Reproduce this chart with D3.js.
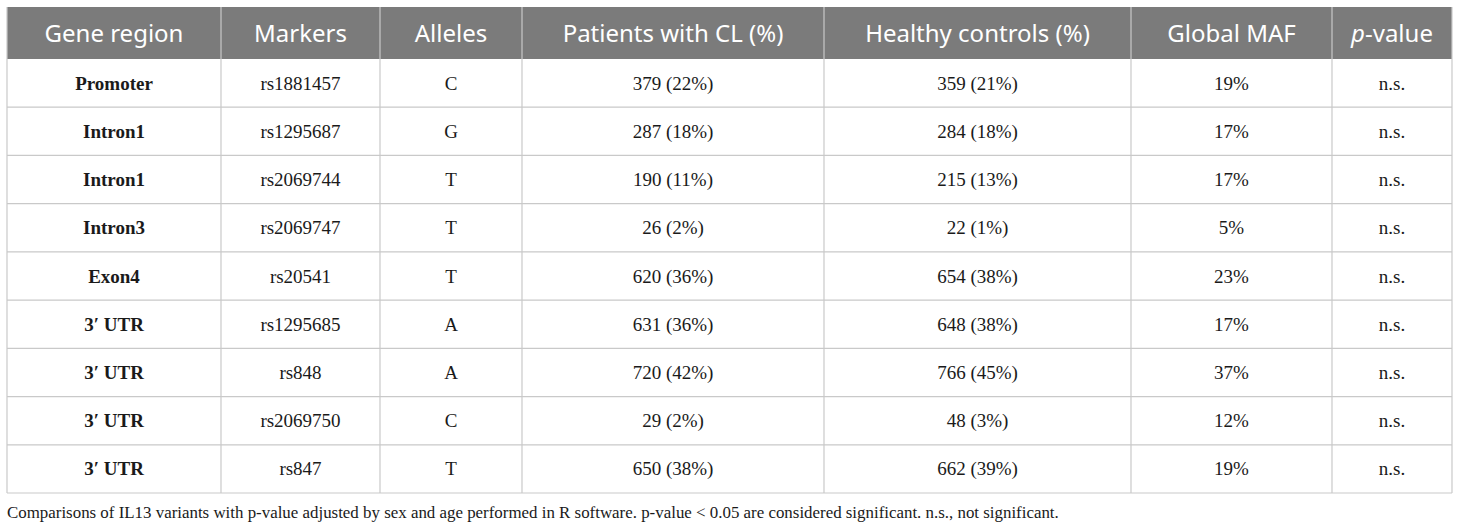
<!DOCTYPE html>
<html><head><meta charset="utf-8">
<script src="https://cdn.jsdelivr.net/npm/d3@7"></script>
<style>html,body{margin:0;padding:0;background:#fff;}</style>
</head><body>
<svg id="c" width="1460" height="531"></svg>
<script>
const headers = ["Gene region","Markers","Alleles","Patients with CL (%)","Healthy controls (%)","Global MAF","p-value"];
const geneRegions = ["Promoter","Intron1","Intron1","Intron3","Exon4","3\u2032 UTR","3\u2032 UTR","3\u2032 UTR","3\u2032 UTR"];
const markers = ["rs1881457","rs1295687","rs2069744","rs2069747","rs20541","rs1295685","rs848","rs2069750","rs847"];
const alleles = ["C","G","T","T","T","A","A","C","T"];
const patientsCL = ["379 (22%)","287 (18%)","190 (11%)","26 (2%)","620 (36%)","631 (36%)","720 (42%)","29 (2%)","650 (38%)"];
const healthyControls = ["359 (21%)","284 (18%)","215 (13%)","22 (1%)","654 (38%)","648 (38%)","766 (45%)","48 (3%)","662 (39%)"];
const globalMAF = ["19%","17%","17%","5%","23%","17%","37%","12%","19%"];
const pValues = ["n.s.","n.s.","n.s.","n.s.","n.s.","n.s.","n.s.","n.s.","n.s."];
const footnote = "Comparisons of IL13 variants with p-value adjusted by sex and age performed in R software. p-value < 0.05 are considered significant. n.s., not significant.";

const columns = [geneRegions, markers, alleles, patientsCL, healthyControls, globalMAF, pValues];
const colEdges = [7,221,380,522,824,1131,1332,1452];

const svg = d3.select("#c");
const headTop = 7, headBot = 59, tableBot = 493;
const y = d3.scaleBand().domain(d3.range(geneRegions.length)).range([headBot, tableBot]);
const gridColor = "#c9c9c9";

svg.append("rect").attr("x", colEdges[0]).attr("y", headTop)
  .attr("width", colEdges[7]-colEdges[0]).attr("height", headBot-headTop).attr("fill", "#7b7b7b");

const ht = svg.selectAll("text.h").data(headers).join("text")
  .attr("class","h")
  .attr("x", (d,i)=> (colEdges[i]+colEdges[i+1])/2)
  .attr("y", (headTop+headBot)/2 + 8.5)
  .attr("text-anchor","middle")
  .attr("font-family","'Noto Sans', 'Open Sans', sans-serif")
  .attr("font-size", 24)
  .attr("fill","#fff");
ht.each(function(d){
  const t = d3.select(this);
  if (d === "p-value") {
    t.append("tspan").attr("font-style","italic").text("p");
    t.append("tspan").text("-value");
  } else t.text(d);
});

columns.forEach((col, ci) => {
  svg.selectAll(null).data(col).join("text")
    .attr("x", (colEdges[ci]+colEdges[ci+1])/2)
    .attr("y", (d,ri)=> y(ri) + y.bandwidth()/2 + 6.5)
    .attr("text-anchor","middle")
    .attr("font-family","'Liberation Serif','Times New Roman',serif")
    .attr("font-size", 19)
    .attr("font-weight", ci===0 ? "bold" : "normal")
    .attr("fill","#1a1a1a")
    .text(d=>d);
});

const hLines = d3.range(1, geneRegions.length+1).map(i => i < geneRegions.length ? y(i) : tableBot);
svg.selectAll("line.hl").data(hLines).join("line")
  .attr("x1", colEdges[0]).attr("x2", colEdges[7])
  .attr("y1", d=>d).attr("y2", d=>d)
  .attr("stroke", gridColor).attr("stroke-width", 1.2);
svg.selectAll("line.vl").data(colEdges).join("line")
  .attr("x1", d=>d).attr("x2", d=>d)
  .attr("y1", headTop).attr("y2", tableBot)
  .attr("stroke", gridColor).attr("stroke-width", 1.2);

svg.append("text").attr("x", 7).attr("y", 518)
  .attr("font-family","'Liberation Serif','Times New Roman',serif")
  .attr("font-size", 16.9).attr("fill","#1a1a1a").text(footnote);
</script>
</body></html>
